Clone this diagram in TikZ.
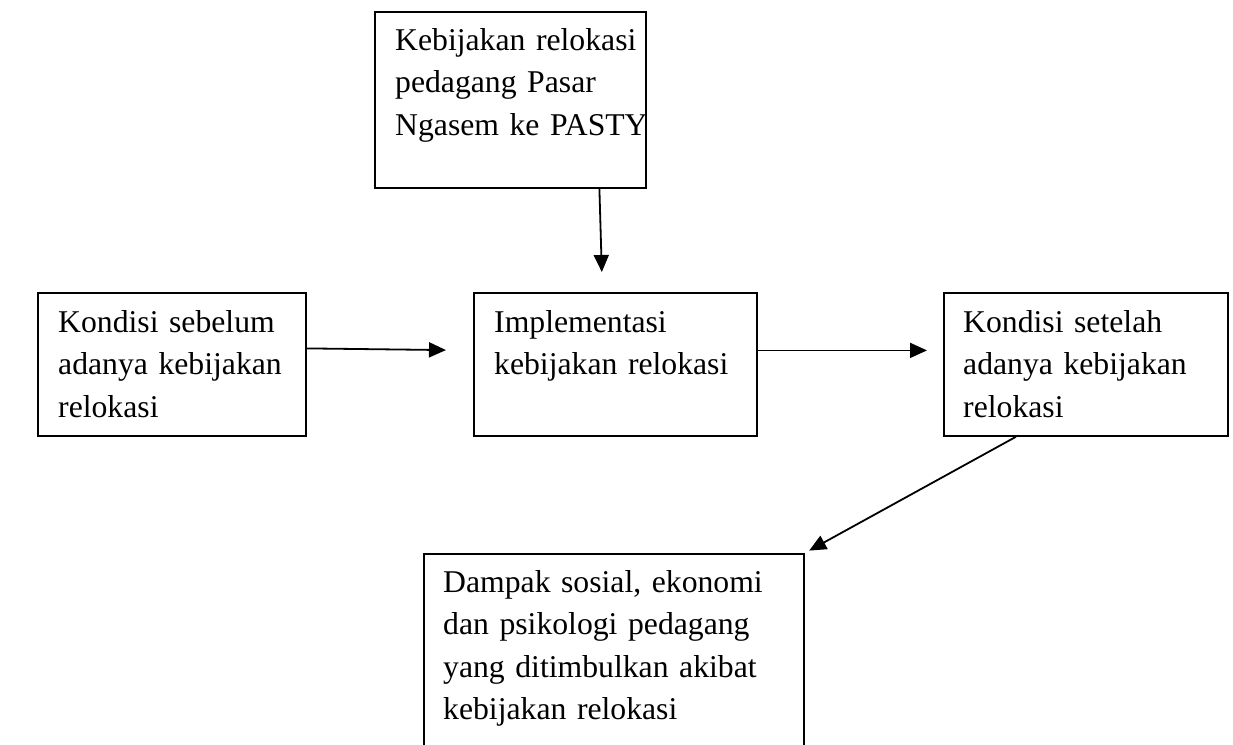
\documentclass[tikz,border=0pt]{standalone}
\usepackage{fontspec}
\setmainfont{Liberation Serif}
\usetikzlibrary{arrows.meta,positioning,calc}

\begin{document}
\begin{tikzpicture}[x=1pt,y=-1pt,
    kotak/.style={draw,line width=1.8pt,inner sep=0pt,anchor=north west},
    teks/.style={anchor=base west,inner sep=0pt,text width=360pt,align=left,
        font=\fontsize{31.7}{42.5}\selectfont},
    panah/.style={line width=1.8pt,-{Triangle[length=17pt,width=15pt]}}]
    \useasboundingbox (0,0) rectangle (1233,744);
    \clip (0,0) rectangle (1233,744);
    % kotak
    \node[kotak,minimum width=271pt,minimum height=176pt] (atas) at (374,11) {};
    \node[kotak,minimum width=268pt,minimum height=143pt] (kiri) at (37,292) {};
    \node[kotak,minimum width=283pt,minimum height=143pt] (tengah) at (473,292) {};
    \node[kotak,minimum width=284pt,minimum height=143pt] (kanan) at (943,292) {};
    \node[kotak,minimum width=380pt,minimum height=210pt] (bawah) at (423,553) {};
    % teks
    \node[teks] (tatas) at ([shift={(21,39)}]atas.north west) {Kebijakan relokasi\\pedagang Pasar\\Ngasem ke PASTY};
    \node[teks] (tkiri) at ([shift={(21,40)}]kiri.north west) {Kondisi sebelum\\adanya kebijakan\\relokasi};
    \node[teks] (ttengah) at ([shift={(21,40)}]tengah.north west) {Implementasi\\kebijakan relokasi};
    \node[teks] (tkanan) at ([shift={(20,40)}]kanan.north west) {Kondisi setelah\\adanya kebijakan\\relokasi};
    \node[teks] (tbawah) at ([shift={(20,39)}]bawah.north west) {Dampak sosial, ekonomi\\dan psikologi pedagang\\yang ditimbulkan akibat\\kebijakan relokasi};
    % panah
    \draw[panah,shorten >=20pt] ([xshift=89pt]atas.south) -- ([xshift=-13pt]tengah.north);
    \draw[panah,shorten >=27pt] ([yshift=16pt]kiri.east) -- ([yshift=14pt]tengah.west);
    \draw[panah,shorten >=16pt] ([yshift=14pt]tengah.east) -- ([yshift=14pt]kanan.west);
    \draw[panah,shorten >=5pt] ([xshift=-70pt]kanan.south) -- (bawah.north east);
\end{tikzpicture}
\end{document}
